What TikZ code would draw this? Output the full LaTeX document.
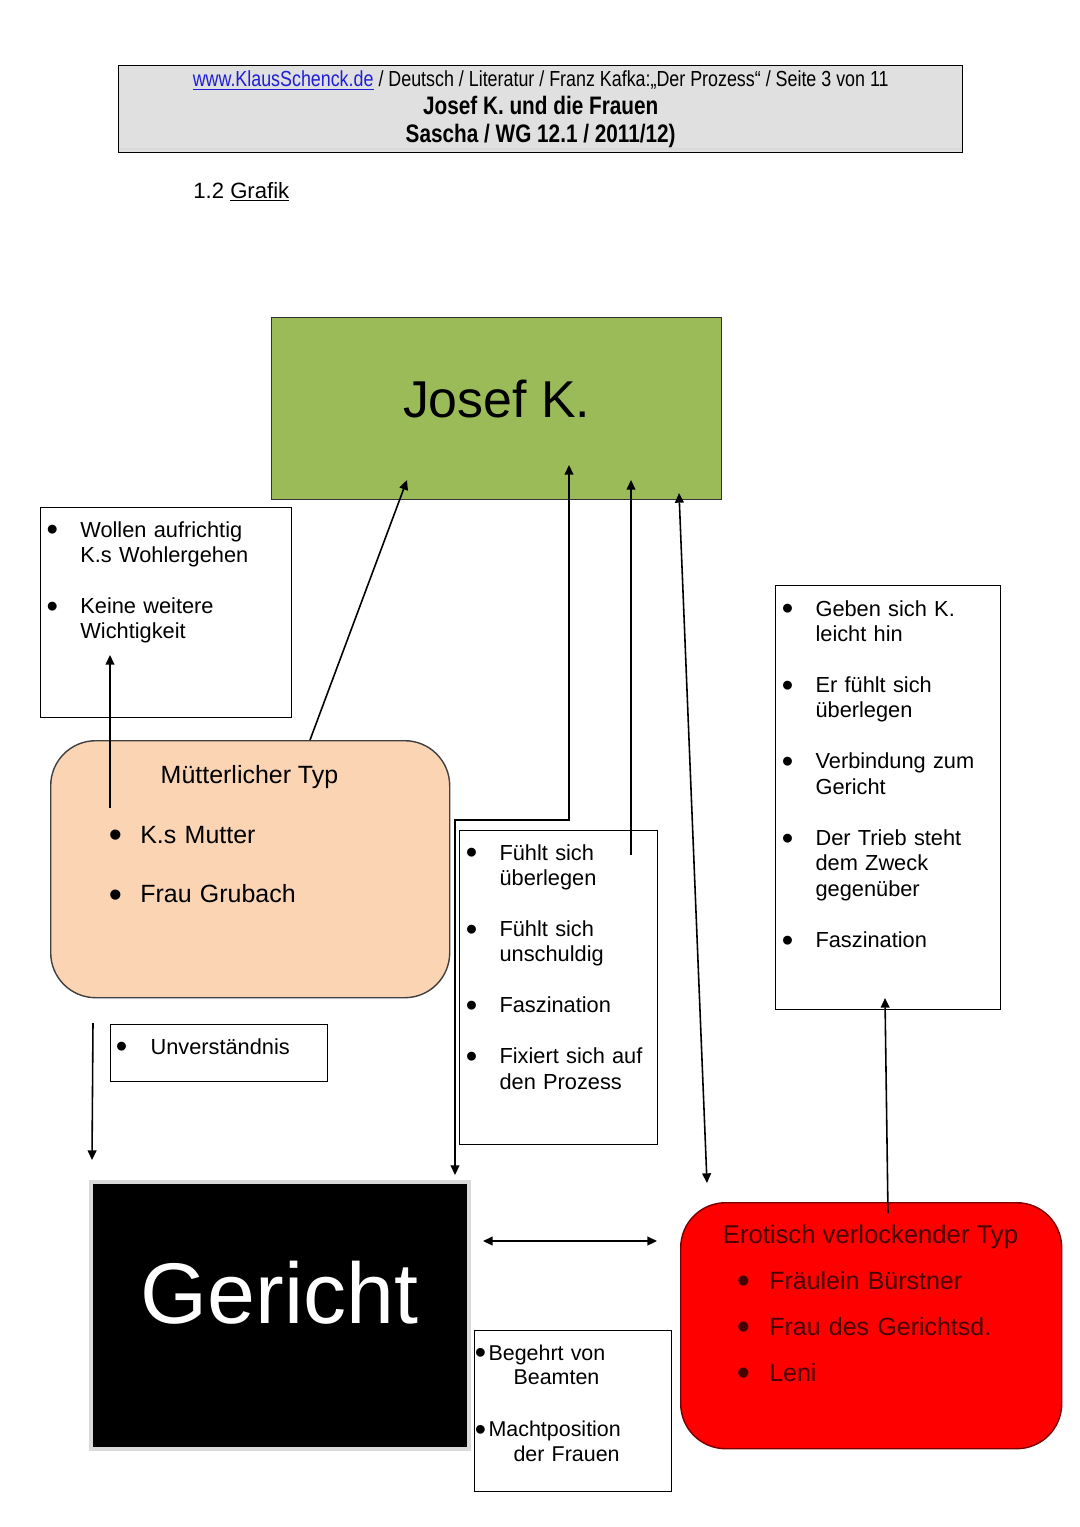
\documentclass[tikz,border=0pt]{standalone}
\usepackage{fontspec}
\setmainfont{Liberation Sans}
\newfontfamily\narrowfont{Liberation Sans}[FakeStretch=0.82]
\usetikzlibrary{positioning, arrows.meta}

\newlength{\px}
\setlength{\px}{0.2mm}
\newcommand{\bul}[1][32]{\makebox[#1\px][l]{\hspace{-0.08em}\raisebox{-0.17em}{\scalebox{1.5}{\textbullet}}}}
\newcommand{\ind}[1][32]{\hspace*{#1\px}}

\definecolor{kgreen}{RGB}{155,187,89}
\definecolor{peach}{RGB}{251,212,180}
\definecolor{headgray}{RGB}{224,224,224}
\definecolor{darkred}{RGB}{120,0,0}
\definecolor{erotext}{RGB}{70,0,0}
\definecolor{linkblue}{RGB}{30,30,215}

\begin{document}
\begin{tikzpicture}[
    x = 0.2mm, y = -0.2mm,
    > = {Triangle[length=5.5pt, width=5pt]},
    arr/.style={->, line width=0.9pt},
    darr/.style={<->, line width=0.9pt},
    box/.style={draw, line width=0.8pt, anchor=north west, inner sep=0pt},
    bullets/.style={anchor=base west, inner sep=0pt, align=left, text width=#1\px},
    small/.style={font=\fontsize{12.4}{14.5}\selectfont},
    mid/.style={font=\fontsize{14.2}{#1}\selectfont}
]

\fill[white] (0,0) rectangle (1080,1527);
\useasboundingbox (0,0) rectangle (1080,1527);

% --- Header ---
\node[box, fill=headgray, minimum width=844\px, minimum height=87\px, align=center,
      font=\narrowfont\fontsize{12.4}{16}\selectfont] (head) at (118,65)
    {\fontsize{12.4}{16}\selectfont\textcolor{linkblue}{\underline{www.KlausSchenck.de}} / Deutsch / Literatur / Franz Kafka:„Der Prozess“ / Seite 3 von 11\\
     \bfseries\fontsize{14.4}{16}\selectfont Josef K. und die Frauen\\
     \bfseries\fontsize{14.4}{16}\selectfont Sascha / WG 12.1 / 2011/12)};
\draw[white!85!black, line width=0.6pt] ([xshift=1pt, yshift=2.5pt]head.south west) -- ([xshift=-1pt, yshift=2.5pt]head.south east);
\node[anchor=base west, inner sep=0pt, font=\fontsize{12.6}{15}\selectfont] (sect) at (193,198) {1.2 \underline{Grafik}};

% --- Josef K. ---
\node[box, fill=kgreen, draw=black!80, minimum width=450\px, minimum height=182\px,
      font=\fontsize{29.5}{35}\selectfont, text depth=20\px] (josef) at (271,317) {Josef K.};

% --- Left: mother type ---
\node[box, minimum width=251\px, minimum height=210\px] (wollen) at (40,507) {};
\node[bullets=230, small] (wollenlist) at (48,537)
    {\bul Wollen aufrichtig\\ \ind K.s Wohlergehen\\[25.5\px] \bul Keine weitere\\ \ind Wichtigkeit};

\node[box, rounded corners=9mm, fill=peach, draw=black!75, minimum width=399\px, minimum height=257\px] (mutter) at (50,740) {};
\node[anchor=base, inner sep=0pt, mid=17] (muttertitle) at (249.5,783) {Mütterlicher Typ};
\node[bullets=300, mid=34.1] (mutterlist) at (110.5,843) {\bul[29.5]K.s Mutter\\ \bul[29.5]Frau Grubach};

\node[box, minimum width=217\px, minimum height=57\px] (unverst) at (110,1024) {};
\node[bullets=200, small] (unverstlist) at (117.2,1054) {\bul[33]Unverständnis};

% --- Middle ---
\node[box, minimum width=198\px, minimum height=314\px] (fuehlt) at (459,830) {};
\node[bullets=185, small] (fuehltlist) at (467.2,860)
    {\bul Fühlt sich\\ \ind überlegen\\[25.5\px] \bul Fühlt sich\\ \ind unschuldig\\[25.5\px]
     \bul Faszination\\[25.5\px] \bul Fixiert sich auf\\ \ind den Prozess};

% --- Right ---
\node[box, minimum width=225\px, minimum height=424\px] (rechts) at (775,585) {};
\node[bullets=210, small] (rechtslist) at (783.2,616)
    {\bul Geben sich K.\\ \ind leicht hin\\[25.5\px] \bul Er fühlt sich\\ \ind überlegen\\[25.5\px]
     \bul Verbindung zum\\ \ind Gericht\\[25.5\px] \bul Der Trieb steht\\ \ind dem Zweck\\ \ind gegenüber\\[25.5\px]
     \bul Faszination};

% --- Bottom ---
\node[box, fill=black, draw=black!15, line width=3.5\px, minimum width=378\px, minimum height=267\px,
      text=white, font=\fontsize{49}{58}\selectfont, text depth=46\px] (gericht) at (89,1180) {Gericht};

\node[box, minimum width=197\px, minimum height=161\px] (begehrt) at (474,1330) {};
\node[bullets=190, font=\fontsize{12.2}{14.2}\selectfont] (begehrtlist) at (476.2,1360)
    {\bul[12]Begehrt von\\ \ind[37]Beamten\\[27\px] \bul[12]Machtposition\\ \ind[37]der Frauen};

\node[box, rounded corners=9mm, fill=red, draw=darkred, minimum width=381\px, minimum height=246\px] (eros) at (680,1202) {};
\node[anchor=base, inner sep=0pt, font=\fontsize{14.6}{17}\selectfont, text=erotext] (erostitle) at (870.5,1243) {Erotisch verlockender Typ};
\node[bullets=320, mid=26.2, text=erotext] (eroslist) at (738.5,1289)
    {\bul[30.5]Fräulein Bürstner\\ \bul[30.5]Frau des Gerichtsd.\\ \bul[30.5]Leni};

% Connector ends
\coordinate (mtop) at (310,740);
\coordinate (j1) at (407,480);
\coordinate (m1) at (110,808);
\coordinate (w1) at (110,655);
\coordinate (g1) at (455,1175);
\coordinate (bend) at (569,820);
\coordinate (j2) at (569,465);
\coordinate (f1) at (631,855);
\coordinate (j3) at (631,480);
\coordinate (e1) at (707,1183);
\coordinate (j4) at (679,493);
\coordinate (e2) at (888,1213);
\coordinate (r1) at (885,998);
\coordinate (m2) at (93,1023);
\coordinate (g2) at (92,1160);
\coordinate (g3) at (483,1241);
\coordinate (e3) at (657,1241);

% Arrows
\draw[arr] (mtop) -- (j1);
\draw[arr] (m1) -- (w1);
\draw[darr] (g1) |- (bend) -- (j2);
\draw[arr] (f1) -- (j3);
\draw[darr] (e1) -- (j4);
\draw[arr] (e2) -- (r1);
\draw[arr] (m2) -- (g2);
\draw[darr] (g3) -- (e3);

\end{tikzpicture}
\end{document}
